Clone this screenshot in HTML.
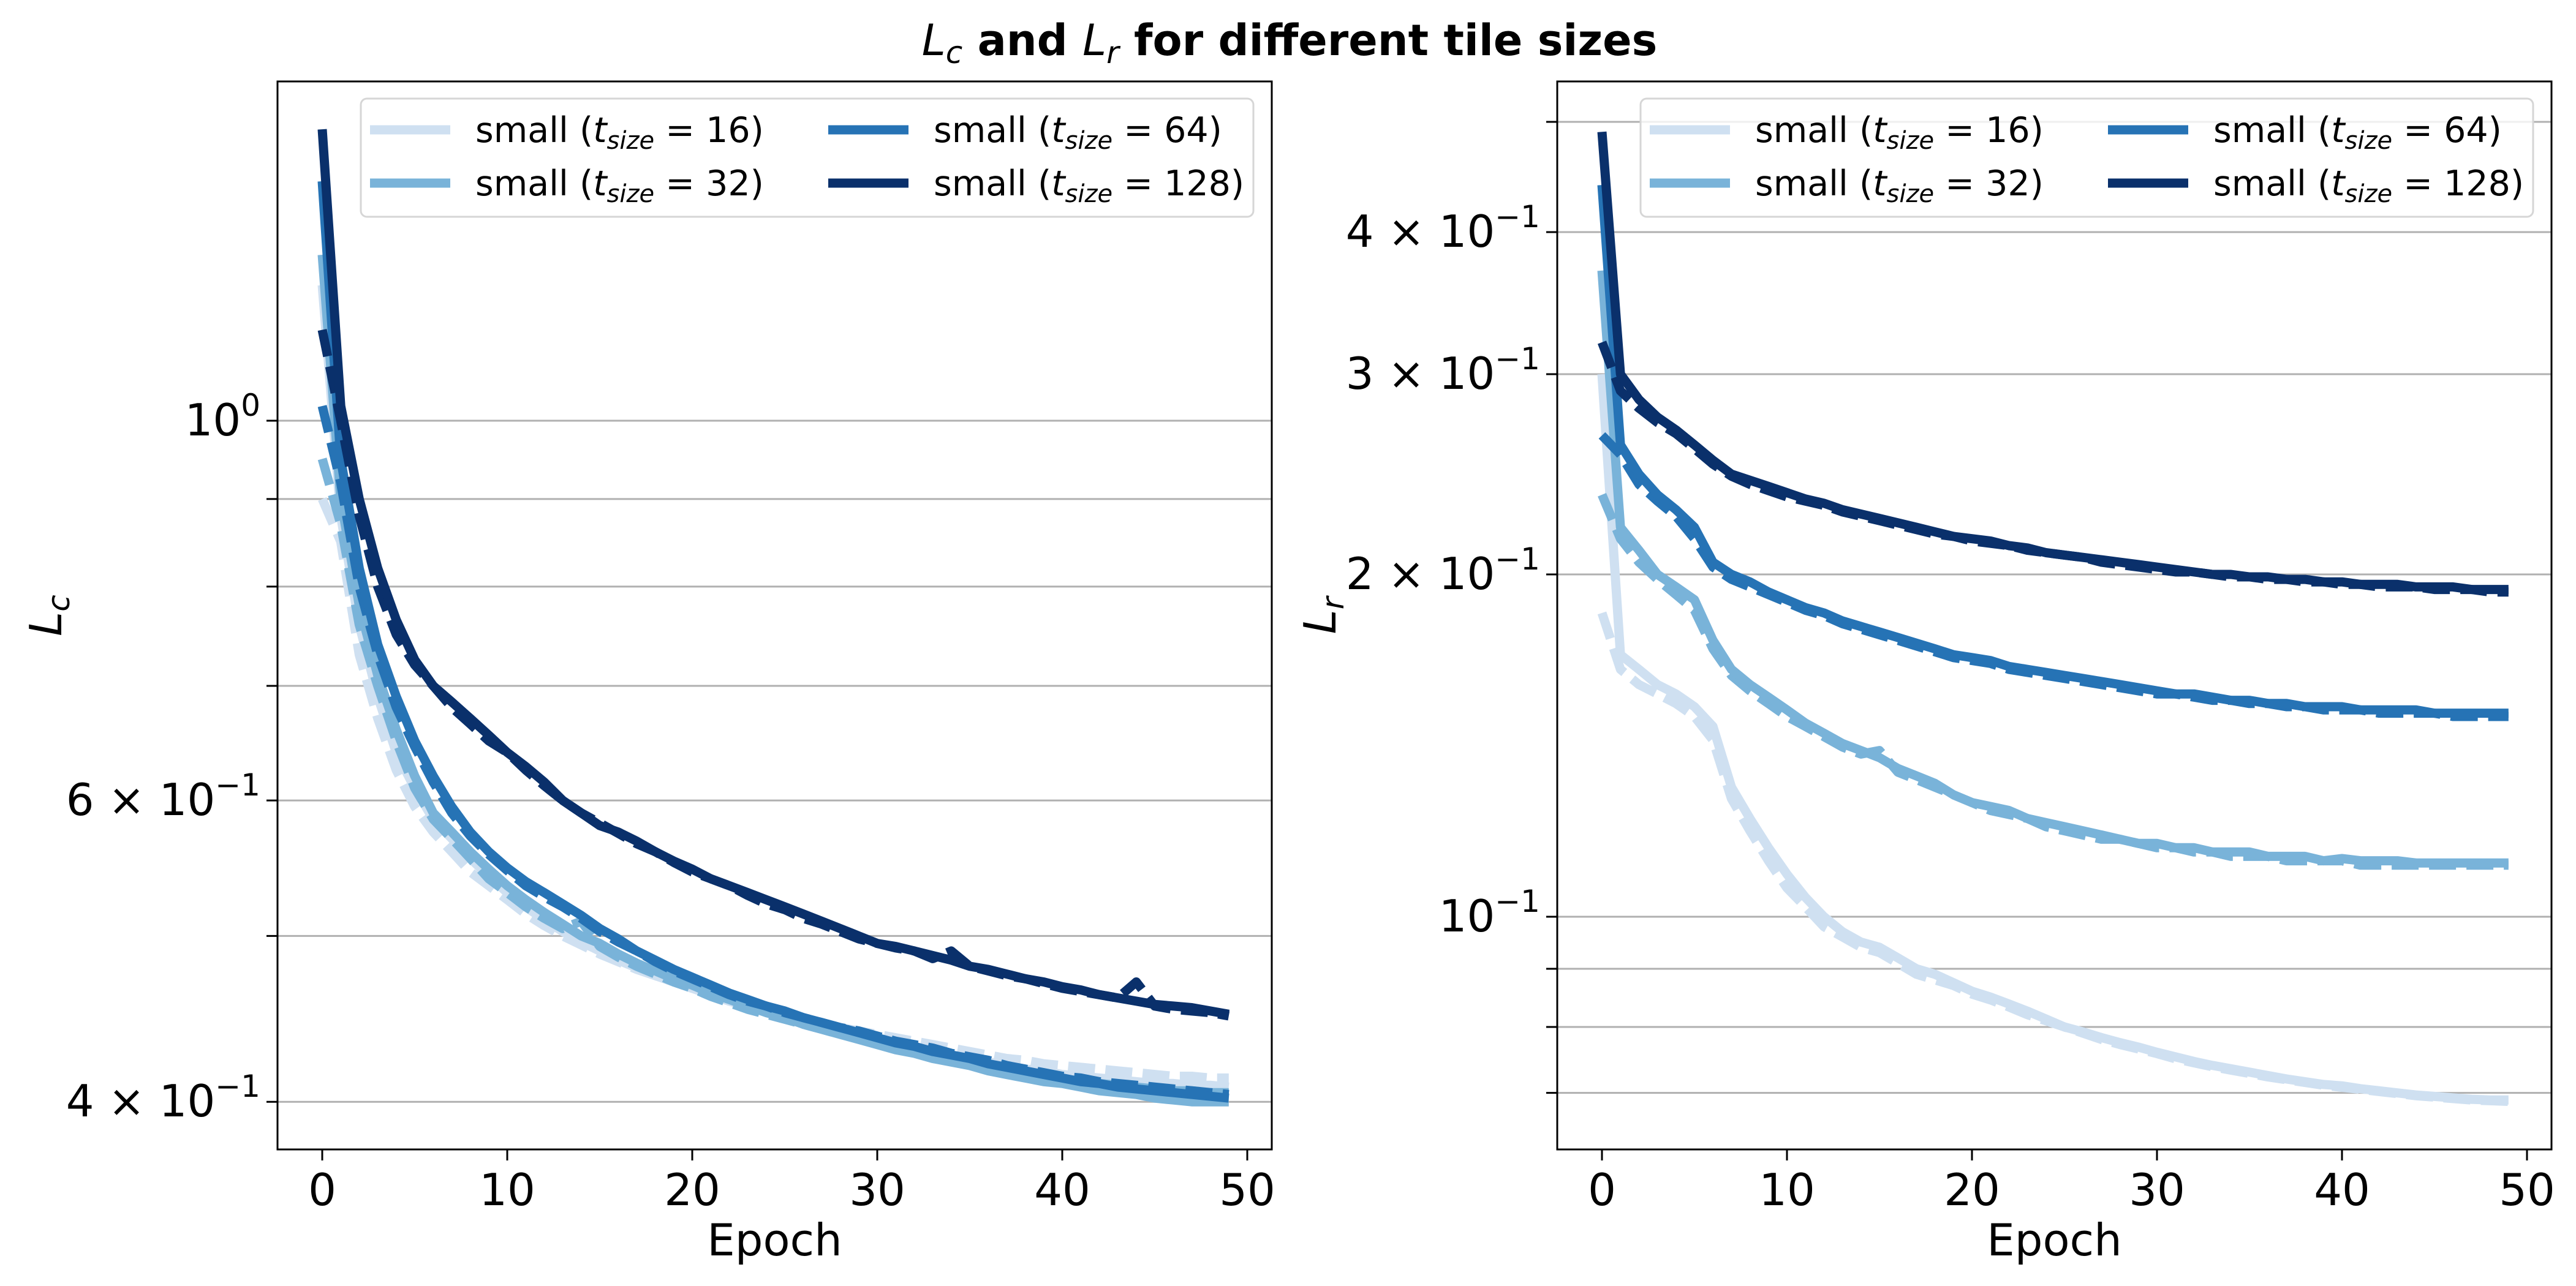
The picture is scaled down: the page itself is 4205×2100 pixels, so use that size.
<!DOCTYPE html>
<html><head><meta charset="utf-8"><style>
html,body{margin:0;padding:0;background:#fff;}
svg{display:block;font-family:"DejaVu Sans","Liberation Sans",sans-serif;}
</style></head><body>
<svg id="fig" width="4205" height="2100" viewBox="0 0 4205 2100" xmlns="http://www.w3.org/2000/svg">
<rect width="4205" height="2100" fill="#fff"/>
<text x="2105" y="90" font-size="70" font-weight="bold" text-anchor="middle"><tspan font-style="italic" font-weight="normal">L</tspan><tspan font-style="italic" font-weight="normal" font-size="50" dy="13">c</tspan><tspan dy="-13"> and </tspan><tspan font-style="italic" font-weight="normal">L</tspan><tspan font-style="italic" font-weight="normal" font-size="50" dy="13">r</tspan><tspan dy="-13"> for different tile sizes</tspan></text>
<g id="left"></g>
<g id="right"></g>
</svg>
<script>
const epochs = Array.from({length:50},(_,i)=>i);
const seriesLabels = ["16","32","64","128"];
const colors = ["#cfe0f1","#79b3d9","#2673b5","#0a306b"];
const xTicks = [0,10,20,30,40,50];

const lcSolid16 = [1.2,0.88,0.76,0.69,0.64,0.61,0.585,0.57,0.555,0.542,0.53,0.52,0.511,0.503,0.496,0.49,0.484,0.479,0.474,0.47,0.466,0.462,0.458,0.455,0.452,0.449,0.446,0.443,0.44,0.437,0.434,0.432,0.43,0.428,0.426,0.424,0.422,0.42,0.418,0.417,0.415,0.414,0.413,0.412,0.411,0.41,0.41,0.409,0.409,0.408];
const lcDash16 = [0.90,0.85,0.73,0.67,0.625,0.595,0.575,0.56,0.545,0.535,0.525,0.515,0.507,0.5,0.494,0.488,0.483,0.478,0.474,0.47,0.466,0.462,0.459,0.456,0.453,0.45,0.447,0.445,0.442,0.44,0.438,0.436,0.434,0.432,0.43,0.428,0.426,0.424,0.423,0.421,0.42,0.419,0.418,0.417,0.416,0.415,0.414,0.414,0.413,0.413];
const lcSolid32 = [1.25,0.90,0.78,0.71,0.66,0.62,0.59,0.575,0.56,0.547,0.535,0.525,0.516,0.508,0.5,0.495,0.488,0.482,0.477,0.472,0.468,0.463,0.459,0.455,0.451,0.448,0.444,0.441,0.438,0.435,0.432,0.429,0.427,0.424,0.422,0.42,0.417,0.415,0.413,0.411,0.41,0.408,0.406,0.405,0.404,0.402,0.401,0.4,0.4,0.4];
const lcDash32 = [0.95,0.87,0.76,0.70,0.65,0.61,0.585,0.57,0.555,0.54,0.53,0.52,0.512,0.505,0.51,0.493,0.486,0.48,0.475,0.47,0.466,0.461,0.457,0.453,0.45,0.447,0.444,0.441,0.438,0.436,0.433,0.43,0.428,0.426,0.424,0.422,0.42,0.418,0.416,0.414,0.413,0.411,0.41,0.409,0.408,0.407,0.406,0.406,0.405,0.405];
const lcSolid64 = [1.38,0.95,0.82,0.74,0.69,0.65,0.62,0.595,0.575,0.56,0.548,0.538,0.53,0.522,0.514,0.505,0.498,0.49,0.484,0.478,0.473,0.468,0.463,0.459,0.455,0.452,0.448,0.445,0.442,0.439,0.436,0.433,0.431,0.428,0.426,0.424,0.421,0.419,0.417,0.415,0.413,0.411,0.41,0.408,0.407,0.406,0.405,0.404,0.403,0.402];
const lcDash64 = [1.02,0.92,0.80,0.73,0.68,0.645,0.615,0.59,0.572,0.558,0.546,0.535,0.527,0.52,0.512,0.503,0.496,0.49,0.483,0.477,0.472,0.467,0.462,0.458,0.455,0.451,0.448,0.445,0.442,0.44,0.437,0.434,0.432,0.43,0.427,0.425,0.423,0.42,0.418,0.416,0.414,0.413,0.411,0.41,0.409,0.408,0.407,0.406,0.405,0.404];
const lcSolid128 = [1.48,1.02,0.90,0.82,0.765,0.725,0.70,0.685,0.67,0.655,0.64,0.628,0.615,0.60,0.59,0.58,0.575,0.568,0.56,0.553,0.547,0.54,0.535,0.53,0.525,0.52,0.515,0.51,0.505,0.50,0.495,0.493,0.49,0.487,0.484,0.48,0.478,0.475,0.472,0.47,0.467,0.465,0.462,0.46,0.458,0.456,0.455,0.454,0.452,0.45];
const lcDash128 = [1.13,1.0,0.88,0.80,0.75,0.72,0.70,0.68,0.665,0.65,0.64,0.625,0.612,0.60,0.59,0.582,0.574,0.566,0.56,0.552,0.545,0.54,0.535,0.528,0.522,0.518,0.512,0.508,0.503,0.498,0.495,0.492,0.49,0.485,0.49,0.48,0.477,0.474,0.472,0.469,0.466,0.464,0.462,0.46,0.47,0.455,0.453,0.452,0.451,0.449];

const lrSolid16 = [0.30,0.17,0.165,0.16,0.157,0.153,0.147,0.13,0.122,0.115,0.109,0.104,0.1,0.097,0.095,0.094,0.092,0.09,0.089,0.0875,0.086,0.085,0.0838,0.0826,0.0813,0.08,0.0792,0.0783,0.0775,0.0768,0.076,0.0753,0.0746,0.074,0.0735,0.073,0.0725,0.072,0.0716,0.0712,0.071,0.0706,0.0703,0.07,0.0697,0.0695,0.0693,0.0691,0.069,0.069];
const lrDash16 = [0.185,0.165,0.16,0.157,0.154,0.15,0.143,0.127,0.119,0.112,0.106,0.102,0.098,0.096,0.094,0.093,0.091,0.089,0.088,0.087,0.0855,0.0845,0.0833,0.082,0.081,0.08,0.079,0.078,0.0772,0.0765,0.0758,0.075,0.0744,0.0738,0.0733,0.0728,0.0723,0.0719,0.0715,0.0711,0.0708,0.0705,0.0702,0.0699,0.0696,0.0694,0.0692,0.069,0.0689,0.0688];
const lrSolid32 = [0.37,0.22,0.21,0.2,0.195,0.19,0.175,0.165,0.16,0.156,0.152,0.148,0.145,0.142,0.14,0.138,0.135,0.133,0.131,0.128,0.126,0.125,0.124,0.122,0.121,0.12,0.119,0.118,0.117,0.116,0.116,0.115,0.115,0.114,0.114,0.114,0.113,0.113,0.113,0.112,0.1125,0.112,0.112,0.112,0.1115,0.1115,0.1115,0.1115,0.1115,0.1115];
const lrDash32 = [0.235,0.215,0.205,0.198,0.192,0.186,0.172,0.163,0.158,0.154,0.15,0.147,0.144,0.141,0.139,0.14,0.134,0.132,0.13,0.128,0.126,0.124,0.123,0.122,0.12,0.119,0.118,0.117,0.117,0.116,0.115,0.115,0.114,0.114,0.113,0.113,0.113,0.112,0.112,0.112,0.112,0.111,0.111,0.111,0.111,0.111,0.111,0.111,0.111,0.111];
const lrSolid64 = [0.44,0.26,0.245,0.235,0.228,0.22,0.205,0.2,0.197,0.193,0.19,0.187,0.185,0.182,0.18,0.178,0.176,0.174,0.172,0.17,0.169,0.168,0.166,0.165,0.164,0.163,0.162,0.161,0.16,0.159,0.158,0.157,0.157,0.156,0.155,0.155,0.154,0.154,0.153,0.153,0.153,0.152,0.152,0.152,0.152,0.151,0.151,0.151,0.151,0.151];
const lrDash64 = [0.265,0.255,0.24,0.232,0.225,0.215,0.203,0.198,0.195,0.192,0.189,0.186,0.184,0.181,0.179,0.177,0.175,0.173,0.171,0.169,0.168,0.167,0.165,0.164,0.163,0.162,0.161,0.16,0.159,0.158,0.157,0.157,0.156,0.155,0.155,0.154,0.154,0.153,0.153,0.152,0.152,0.152,0.151,0.151,0.151,0.151,0.15,0.15,0.15,0.15];
const lrSolid128 = [0.49,0.30,0.285,0.275,0.268,0.26,0.252,0.245,0.242,0.239,0.236,0.233,0.231,0.228,0.226,0.224,0.222,0.22,0.218,0.216,0.215,0.214,0.212,0.211,0.209,0.208,0.207,0.206,0.205,0.204,0.203,0.202,0.201,0.2,0.2,0.199,0.199,0.198,0.198,0.197,0.197,0.196,0.196,0.196,0.195,0.195,0.195,0.194,0.194,0.194];
const lrDash128 = [0.32,0.29,0.28,0.272,0.266,0.258,0.25,0.244,0.24,0.237,0.234,0.232,0.23,0.227,0.225,0.223,0.221,0.219,0.217,0.216,0.214,0.213,0.212,0.21,0.209,0.208,0.207,0.205,0.204,0.203,0.202,0.201,0.201,0.2,0.199,0.199,0.198,0.198,0.197,0.197,0.196,0.196,0.195,0.195,0.195,0.194,0.194,0.194,0.193,0.193];

const lcGrid = [1.0,0.9,0.8,0.7,0.6,0.5,0.4];
const lcTickVals = [1.0,0.6,0.4];
const lcTickMant = ["","6","4"];
const lcTickExp = ["0","−1","−1"];
const lrGrid = [0.5,0.4,0.3,0.2,0.1,0.09,0.08,0.07];
const lrTickVals = [0.4,0.3,0.2,0.1];
const lrTickMant = ["4","3","2",""];
const lrTickExp = ["−1","−1","−1","−1"];

const NS="http://www.w3.org/2000/svg";
function mk(parent,tag,attrs,text){const e=document.createElementNS(NS,tag);for(const k in attrs)e.setAttribute(k,attrs[k]);if(text!==undefined)e.textContent=text;parent.appendChild(e);return e;}

function panel(g, left, yRef, vRef, pxDec, solids, dashes, grid, tVals, tMant, tExp, yLabelSub, yLabelX){
  const right = left+1623, top=133, bottom=1877;
  const xs = e => left+73 + e*30.2;
  const ys = v => yRef - pxDec*Math.log10(v/vRef);
  grid.forEach(v=>{
    const y=ys(v);
    const l=mk(g,'line',{x1:left,x2:right,y1:y,y2:y,stroke:'#b0b0b0','stroke-width':3});
    
    
    const t=mk(g,'line',{x1:left-18,x2:left,y1:y,y2:y,stroke:'#000','stroke-width':3});
    
    
  });
  tVals.forEach((v,i)=>{
    const y=ys(v);
    const t=mk(g,'text',{x:left-28,y:y+24,'font-size':72,'text-anchor':'end'});
    
    
    if(tMant[i]){mk(t,'tspan',{},tMant[i]+" × ");}
    mk(t,'tspan',{},"10");
    mk(t,'tspan',{'font-size':50,dy:-32},tExp[i]);
  });
  xTicks.forEach(v=>{
    const x=xs(v);
    const t=mk(g,'line',{x1:x,x2:x,y1:bottom,y2:bottom+18,stroke:'#000','stroke-width':3});
    
    
    const l=mk(g,'text',{x:x,y:1968,'font-size':72,'text-anchor':'middle'},String(v));
    
    
  });
  const clipId='clip'+left;
  const cp=mk(g,'clipPath',{id:clipId});
  mk(cp,'rect',{x:left,y:top,width:1623,height:bottom-top});
  const lines=mk(g,'g',{'clip-path':'url(#'+clipId+')'});
  solids.forEach((s,k)=>{
    const ptsS=s.map((v,i)=>xs(epochs[i]).toFixed(1)+','+ys(v).toFixed(1)).join(' ');
    const ptsD=dashes[k].map((v,i)=>xs(epochs[i]).toFixed(1)+','+ys(v).toFixed(1)).join(' ');
    const d=mk(lines,'polyline',{points:ptsD,fill:'none',stroke:colors[k],'stroke-width':15,'stroke-dasharray':'44 17','stroke-linejoin':'round'});
    
    
    const sl=mk(lines,'polyline',{points:ptsS,fill:'none',stroke:colors[k],'stroke-width':15,'stroke-linejoin':'round','stroke-linecap':'butt'});
    
    
  });
  const frame=mk(g,'rect',{x:left,y:top,width:1623,height:bottom-top,fill:'none',stroke:'#000','stroke-width':3});
  
  
  const lx=left+136;
  const lg=mk(g,'g',{});
  
  
  mk(lg,'rect',{x:lx,y:161,width:1457,height:193,rx:10,fill:'#fff','fill-opacity':0.8,stroke:'#d6d6d6','stroke-width':3});
  const pos=[[0,0],[0,1],[1,0],[1,1]];
  seriesLabels.forEach((lab,k)=>{
    const cx=lx+15+pos[k][0]*748, cy=212+pos[k][1]*87;
    const h=mk(lg,'line',{x1:cx,x2:cx+131,y1:cy,y2:cy,stroke:colors[k],'stroke-width':15});
    
    
    const t=mk(lg,'text',{x:cx+172,y:cy+20,'font-size':57});
    
    
    mk(t,'tspan',{},'small (');
    mk(t,'tspan',{'font-style':'italic'},'t');
    mk(t,'tspan',{'font-style':'italic','font-size':40,dy:11},'size');
    mk(t,'tspan',{dy:-11},' = '+lab+')');
  });
  const xl=mk(g,'text',{x:(left+right)/2,y:2050,'font-size':72,'text-anchor':'middle'},'Epoch');
  
  
  const yl=mk(g,'text',{x:0,y:0,'font-size':72,'font-style':'italic',transform:'translate('+yLabelX+',1005) rotate(-90)','text-anchor':'middle'});
  
  
  mk(yl,'tspan',{},'L');
  mk(yl,'tspan',{'font-size':50,dy:13},yLabelSub);
}
panel(document.getElementById('left'),453,687,1.0,2795,
  [lcSolid16,lcSolid32,lcSolid64,lcSolid128],[lcDash16,lcDash32,lcDash64,lcDash128],
  lcGrid,lcTickVals,lcTickMant,lcTickExp,'c',100);
panel(document.getElementById('right'),2542,1497,0.1,1857,
  [lrSolid16,lrSolid32,lrSolid64,lrSolid128],[lrDash16,lrDash32,lrDash64,lrDash128],
  lrGrid,lrTickVals,lrTickMant,lrTickExp,'r',2180);
</script>
</body></html>
